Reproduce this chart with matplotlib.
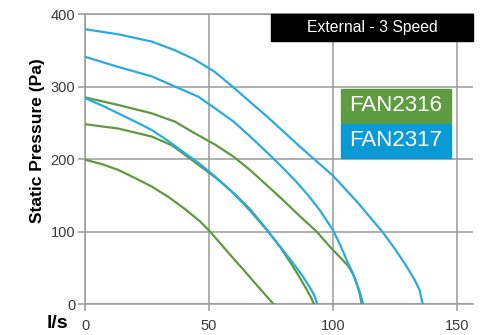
import matplotlib.pyplot as plt

# --- DATA ---
# FAN2317 (blue) curves: flow (l/s) vs static pressure (Pa)
blue_hi_x = [0, 13.4, 26.9, 36.3, 44.4, 52.4, 59.8, 66.5, 73.3, 80, 86.7, 92.7, 100, 110, 120.3, 125, 129.7, 133, 135, 136.2]
blue_hi_y = [379, 372, 362, 350, 337, 320, 299, 279, 259, 238, 217, 199, 177, 140, 98, 76, 52, 33, 19, 0]
blue_mid_x = [0, 13.4, 26.9, 37.6, 45.7, 52.4, 59.8, 66, 71.9, 75.9, 80, 85.4, 90, 94.8, 100, 103, 105.5, 107.8, 109.6, 111, 112.2]
blue_mid_y = [341, 327, 314, 298, 286, 270, 252, 233, 214, 201, 187, 168, 150, 129, 102, 81, 61, 44, 28.5, 15, 0]
blue_lo_x = [0, 6.7, 13.4, 20, 26.9, 33.5, 40.3, 46.4, 52.4, 59.8, 66.5, 73.3, 79, 84, 87.5, 90.7, 92.5, 93.7]
blue_lo_y = [284, 274, 263, 252, 240, 225, 208, 193, 176, 153, 129, 102, 78, 56, 40, 23, 12, 0]
# FAN2316 (green) curves
green_hi_x = [0, 13.4, 26.9, 36.3, 43, 52.4, 60, 66.5, 73.3, 80, 86.7, 93.4, 98.8, 103, 106, 108, 109.6, 110.8, 111.6]
green_hi_y = [285, 274.5, 263, 251.5, 238, 220, 203, 185, 164, 143, 121, 100, 79, 64, 53, 42, 28, 14, 0]
green_mid_x = [0, 13.4, 26.9, 35, 43, 52.4, 57, 61.5, 66.5, 73.3, 78.6, 82.7, 86, 89.4, 91, 92.3]
green_mid_y = [248, 242, 231, 219, 199, 175, 162, 148, 131, 103, 79, 58, 40, 20, 10, 0]
green_lo_x = [0, 6.7, 13.4, 20, 26.9, 33.5, 40.3, 46.4, 50.4, 55, 59.8, 64, 68, 72, 76]
green_lo_y = [199, 193, 185, 174, 162, 148, 131, 114, 100, 82, 63, 47, 31, 15.5, 0]

x_ticks = [0, 50, 100, 150]
y_ticks = [0, 100, 200, 300, 400]
series = [
    ("FAN2316", "#5f9a3e", [(green_hi_x, green_hi_y), (green_mid_x, green_mid_y), (green_lo_x, green_lo_y)]),
    ("FAN2317", "#29abe2", [(blue_hi_x, blue_hi_y), (blue_mid_x, blue_mid_y), (blue_lo_x, blue_lo_y)]),
]
legend_fill = {"FAN2316": "#5f9b40", "FAN2317": "#0a9ad6"}

plt.rcParams['font.family'] = ['Liberation Sans', 'DejaVu Sans']

# --- PLOT ---
fig = plt.figure(figsize=(4.88, 3.35), dpi=100)
ax = fig.add_axes([85 / 488, 1 - 304 / 335, 388 / 488, 290 / 335])

grid_c = "#9a9a9a"
for name, color, curves in series:
    for cx, cy in curves:
        ax.plot(cx, cy, color=color, lw=1.6, zorder=3, solid_joinstyle='round')

ax.set_xlim(0, 156.5)
ax.set_ylim(0, 400)
ax.set_xticks(x_ticks)
ax.set_yticks(y_ticks)
ax.grid(True, color=grid_c, lw=1.1, zorder=1)
ax.set_axisbelow(True)
for s in ['left', 'bottom', 'top']:
    ax.spines[s].set_color(grid_c)
    ax.spines[s].set_linewidth(1.1)
ax.spines['right'].set_visible(False)
ax.tick_params(axis='both', colors=grid_c, length=5, width=1.1, labelsize=10.5,
               labelcolor='#3a3a3a', pad=2)
ax.tick_params(axis='x', pad=6)

# axis labels placed where the reference has them
fig.text(38 / 488, 1 - 141 / 335, "Static Pressure (Pa)", fontsize=12.5, fontweight='bold',
         rotation=90, ha='center', va='center')
fig.text(57 / 488, 1 - 323 / 335, "l/s", fontsize=14, fontweight='bold',
         ha='center', va='center')

# title box
fig.patches.append(plt.Rectangle((271 / 488, 1 - 41 / 335), 202 / 488, 27 / 335,
                                 transform=fig.transFigure, color='black', zorder=5))
fig.text(372 / 488, 1 - 27.5 / 335, "External - 3 Speed", fontsize=11.3, color='white',
         ha='center', va='center', zorder=6)

# legend boxes
for i, (name, color, curves) in enumerate(series):
    top = 89.3 + i * 35
    fig.patches.append(plt.Rectangle((341 / 488, 1 - (top + 33.3) / 335), 110 / 488, 33.3 / 335,
                                     transform=fig.transFigure, color=legend_fill[name], zorder=5))
    fig.text(396 / 488, 1 - (top + 16.5) / 335, name, fontsize=16, color='white',
             ha='center', va='center', zorder=6)

plt.savefig("out.png", dpi=100)
